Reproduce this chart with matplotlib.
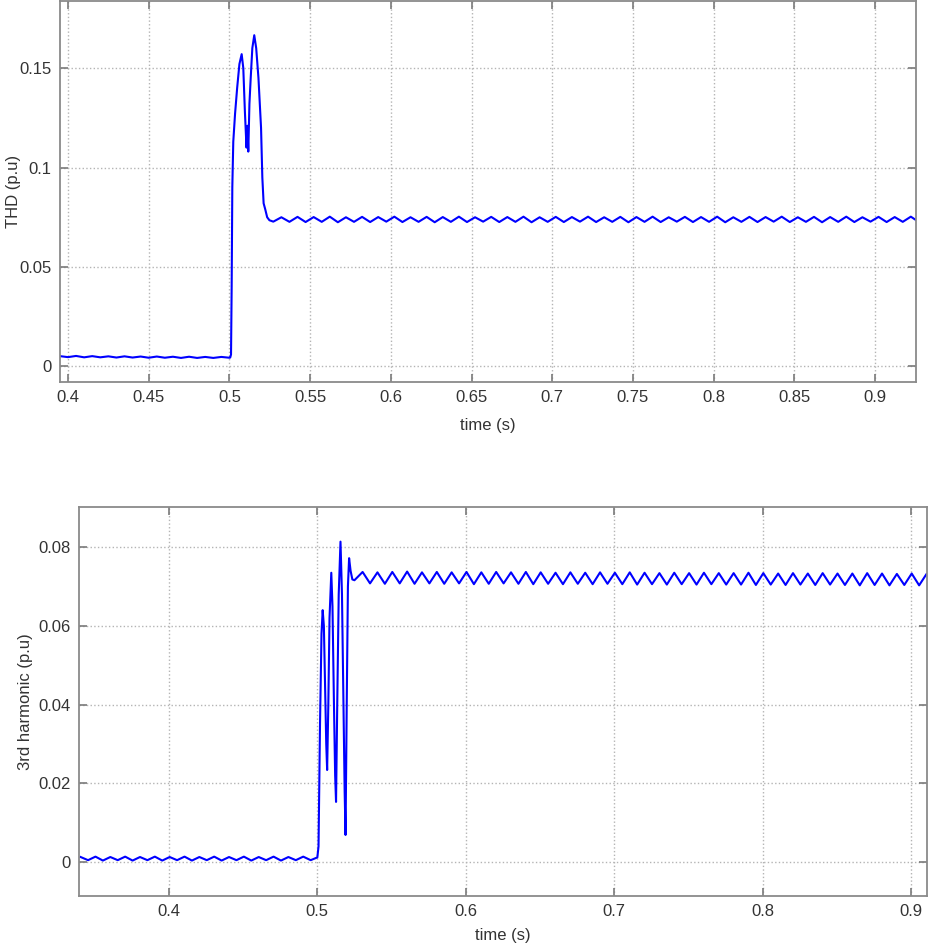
import numpy as np
from matplotlib import pyplot as plt
from matplotlib.ticker import FormatStrFormatter

plt.rcParams['font.family'] = ['Liberation Sans', 'DejaVu Sans']
plt.rcParams['font.size'] = 12

# ---- THD (top) ----
thd_pre_t = [0.395, 0.400, 0.405, 0.410, 0.415, 0.420, 0.425, 0.430, 0.435, 0.440, 0.445,
             0.450, 0.455, 0.460, 0.465, 0.470, 0.475, 0.480, 0.485, 0.490, 0.495, 0.500]
thd_pre = [0.0052, 0.0047, 0.0053, 0.0046, 0.0052, 0.0046, 0.0051, 0.0045, 0.0051, 0.0045, 0.0050,
           0.0044, 0.0050, 0.0044, 0.0049, 0.0043, 0.0049, 0.0043, 0.0048, 0.0043, 0.0048, 0.0044]

thd_fault_t = [0.5005, 0.5010, 0.5014, 0.5018, 0.5024, 0.5035, 0.5048, 0.5062, 0.5076, 0.5086,
               0.5096, 0.5106, 0.5112, 0.5117, 0.5124, 0.5132, 0.5142, 0.5154, 0.5166, 0.5180,
               0.5196, 0.5204, 0.5212, 0.5222, 0.5234, 0.5248]
thd_fault = [0.0045, 0.0060, 0.0400, 0.0900, 0.1130, 0.1270, 0.1400, 0.1520, 0.1570, 0.1500,
             0.1280, 0.1100, 0.1210, 0.1080, 0.1320, 0.1450, 0.1600, 0.1665, 0.1600, 0.1450,
             0.1200, 0.0950, 0.0820, 0.0790, 0.0750, 0.0735]

thd_steady_t0 = 0.5272
thd_steady = [0.0728, 0.0750, 0.0727, 0.0752, 0.0726, 0.0751, 0.0727, 0.0753, 0.0725, 0.0750,
              0.0727, 0.0752, 0.0726, 0.0751, 0.0728, 0.0753, 0.0726, 0.0750, 0.0727, 0.0752,
              0.0725, 0.0751, 0.0727, 0.0753, 0.0726, 0.0750, 0.0728, 0.0752, 0.0726, 0.0751,
              0.0727, 0.0753, 0.0725, 0.0750, 0.0727, 0.0752, 0.0726, 0.0751, 0.0728, 0.0753,
              0.0726, 0.0750, 0.0727, 0.0752, 0.0725, 0.0751, 0.0727, 0.0753, 0.0726, 0.0750,
              0.0728, 0.0752, 0.0726, 0.0751, 0.0727, 0.0753, 0.0725, 0.0750, 0.0727, 0.0752,
              0.0726, 0.0751, 0.0728, 0.0753, 0.0726, 0.0750, 0.0727, 0.0752, 0.0725, 0.0751,
              0.0727, 0.0753, 0.0726, 0.0750, 0.0728, 0.0752, 0.0726, 0.0751, 0.0727, 0.0753,
              0.0726]

# ---- 3rd harmonic (bottom) ----
h3_pre_t0 = 0.3405
h3_pre = [0.0013, 0.0005, 0.0014, 0.0004, 0.0013, 0.0005, 0.0014, 0.0004, 0.0013, 0.0005,
          0.0014, 0.0004, 0.0013, 0.0005, 0.0014, 0.0004, 0.0013, 0.0005, 0.0014, 0.0004,
          0.0013, 0.0005, 0.0014, 0.0004, 0.0013, 0.0005, 0.0014, 0.0004, 0.0013, 0.0005,
          0.0014, 0.0005]

h3_fault_t = [0.5000, 0.5008, 0.5018, 0.5028, 0.5036, 0.5044, 0.5052, 0.5060, 0.5066, 0.5074,
              0.5082, 0.5094, 0.5102, 0.5112, 0.5120, 0.5126, 0.5134, 0.5144, 0.5156, 0.5166,
              0.5176, 0.5184, 0.5190, 0.5198, 0.5206, 0.5214, 0.5224, 0.5236, 0.5250]
h3_fault = [0.0012, 0.0040, 0.0350, 0.0580, 0.0640, 0.0600, 0.0450, 0.0300, 0.0234, 0.0400,
            0.0620, 0.0735, 0.0650, 0.0400, 0.0220, 0.0153, 0.0400, 0.0680, 0.0814, 0.0680,
            0.0400, 0.0180, 0.0069, 0.0400, 0.0700, 0.0772, 0.0740, 0.0718, 0.0716]

h3_steady_t0 = 0.5305
h3_steady = [0.0737, 0.0708, 0.0736, 0.0707, 0.0737, 0.0708, 0.0738, 0.0707, 0.0736, 0.0708,
             0.0737, 0.0707, 0.0736, 0.0708, 0.0737, 0.0706, 0.0736, 0.0707, 0.0737, 0.0708,
             0.0736, 0.0707, 0.0737, 0.0706, 0.0736, 0.0707, 0.0735, 0.0706, 0.0736, 0.0707,
             0.0735, 0.0706, 0.0736, 0.0707, 0.0735, 0.0706, 0.0736, 0.0705, 0.0735, 0.0706,
             0.0734, 0.0705, 0.0735, 0.0706, 0.0734, 0.0705, 0.0735, 0.0706, 0.0734, 0.0705,
             0.0734, 0.0705, 0.0735, 0.0704, 0.0734, 0.0705, 0.0733, 0.0704, 0.0734, 0.0705,
             0.0733, 0.0704, 0.0734, 0.0705, 0.0733, 0.0704, 0.0733, 0.0703, 0.0734, 0.0704,
             0.0733, 0.0703, 0.0732, 0.0704, 0.0733, 0.0703, 0.0732, 0.0703]

step = 0.005

t_top = np.concatenate([thd_pre_t, thd_fault_t, thd_steady_t0 + step * np.arange(len(thd_steady))])
y_top = np.concatenate([thd_pre, thd_fault, thd_steady])

t_bot = np.concatenate([h3_pre_t0 + step * np.arange(len(h3_pre)), h3_fault_t,
                        h3_steady_t0 + step * np.arange(len(h3_steady))])
y_bot = np.concatenate([h3_pre, h3_fault, h3_steady])


def style(ax):
    for s in ax.spines.values():
        s.set_color('#8a8a8a')
        s.set_linewidth(1.3)
    ax.tick_params(direction='in', top=True, right=True, length=6, width=1.2,
                   color='#7a7a7a', labelcolor='#333333', pad=6)
    ax.grid(True, linestyle=':', color='#b4b4b4', linewidth=1.0)
    ax.xaxis.set_major_formatter(FormatStrFormatter('%g'))
    ax.yaxis.set_major_formatter(FormatStrFormatter('%g'))


fig = plt.figure(figsize=(9.3, 9.52), dpi=100)

ax1 = fig.add_axes([60 / 930, 1 - 382 / 952, 856 / 930, 381 / 952])
ax1.plot(t_top, y_top, color='#0000ff', linewidth=1.5)
ax1.set_xlim(0.39504, 0.9254)
ax1.set_ylim(-0.0078, 0.1837)
ax1.set_xticks(np.arange(0.4, 0.901, 0.05))
ax1.set_yticks([0, 0.05, 0.1, 0.15])
style(ax1)
ax1.set_xlabel('time (s)', color='#333333')
ax1.set_ylabel('THD (p.u)', color='#333333')
ax1.xaxis.set_label_coords(0.5, -0.094)
ax1.yaxis.set_label_coords(-0.046, 0.5)

ax2 = fig.add_axes([79 / 930, 1 - 896 / 952, 848 / 930, 389 / 952])
ax2.plot(t_bot, y_bot, color='#0000ff', linewidth=1.5)
ax2.set_xlim(0.3394, 0.9108)
ax2.set_ylim(-0.0086, 0.0902)
ax2.set_xticks([0.4, 0.5, 0.6, 0.7, 0.8, 0.9])
ax2.set_yticks([0, 0.02, 0.04, 0.06, 0.08])
style(ax2)
ax2.set_xlabel('time (s)', color='#333333')
ax2.set_ylabel('3rd harmonic (p.u)', color='#333333')
ax2.xaxis.set_label_coords(0.5, -0.082)
ax2.yaxis.set_label_coords(-0.054, 0.5)

fig.savefig('out.png', dpi=100)
